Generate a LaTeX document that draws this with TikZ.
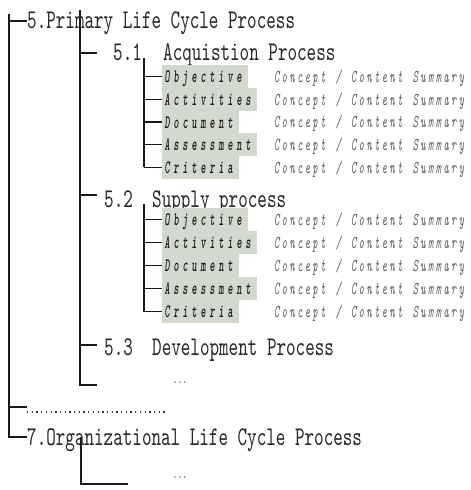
\documentclass[tikz,border=0pt]{standalone}
\usepackage{fontspec}
\newfontfamily\headfont{lmmono10-regular.otf}[FakeStretch=0.675]
\newfontfamily\labfont{lmmonolt10-boldoblique.otf}[FakeStretch=0.52]
\newfontfamily\sumfont{lmmono10-italic.otf}[FakeStretch=0.55]
\definecolor{boxgray}{RGB}{212,217,208}
% set a word with a fixed extra kern after every character
\ExplSyntaxOn
\cs_new:Npn \my_spread:nn #1#2 { \str_map_inline:nn {#2} { ##1 \kern #1 } }
\cs_generate_variant:Nn \my_spread:nn { ne }
\NewDocumentCommand \spread { m m } { \my_spread:ne {#1} {#2} }
\ExplSyntaxOff
% one monospaced cell of the summary font (glyph advance + kern)
\newcommand\sumgap{\hspace*{7.7pt}}
\newcommand\summtext{\spread{2.5pt}{Concept}\sumgap\spread{2.5pt}{/}\sumgap
  \spread{2.5pt}{Content}\sumgap\spread{2.5pt}{Summary}}
\begin{document}
\begin{tikzpicture}[x=1pt,y=-1pt,
  tree/.style={line width=1.4pt, draw=black!90},
  head/.style={anchor=base west, inner sep=0pt, text=black!85,
    font=\headfont\fontsize{27}{27}\selectfont},
  lab/.style={anchor=west, inner xsep=2.5pt, inner ysep=0pt, fill=boxgray,
    minimum height=23pt, text height=12.5pt, text depth=0pt, text=black!90,
    font=\labfont\fontsize{19}{19}\selectfont},
  summ/.style={anchor=base west, inner sep=0pt, text=black!65,
    font=\sumfont\fontsize{18}{18}\selectfont},
  more/.style={anchor=base, inner sep=0pt, text=black!75,
    font=\headfont\fontsize{14}{14}\selectfont},
  leader/.style={line width=1.3pt, dash pattern=on 1.3pt off 3.4pt, draw=black!80}
]
\useasboundingbox (0,0) rectangle (471,490);

% headings
\node[head] (h5) at (27,28) {5.Primary Life Cycle Process};
\node[head] (n51) at (113,60) {5.1};
\node[head] (t51) at (163,60) {Acquistion Process};
\node[head] (n52) at (104,207) {5.2};
\node[head] (t52) at (152,207) {Supply process};
\node[head] (n53) at (104,355) {5.3};
\node[head] (t53) at (152,355) {Development Process};
\node[more] (m5) at (180,383) {...};
\node[head] (h7) at (27,445) {7.Organizational Life Cycle Process};
\node[more] (m7) at (180,478) {...};

% tree skeleton
\coordinate (trunktop) at (9,14);
\coordinate (trunkbot) at (9,437);
\coordinate (branchtop) at (80,10);
\coordinate (branchbot) at (80,385);
\draw[tree] (trunktop) -- (trunkbot) -- (h7.west |- trunkbot);
\draw[tree] (trunktop |- 0,21) -- (h5.west |- 0,21);
\draw[tree] (branchtop) -- (branchbot) -- ++(17,0);
\coordinate (b51) at (80,53);
\coordinate (b52) at (80,195);
\coordinate (b53) at (80,345);
\draw[tree] (b51) -- ++(17,0);
\draw[tree] (b52) -- ++(17,0);
\draw[tree] (b53) -- ++(17,0);

% elided section
\coordinate (dotstart) at (27,412);
\coordinate (dotend) at (165,412);
\draw[tree] (9,407) -- (27,407);
\draw[leader] (dotstart) -- (dotend);

% section 7 continuation
\coordinate (s7top) at (81,437);
\coordinate (s7end) at (128,484);
\draw[tree] (s7top) -- (s7top |- s7end) -- (s7end);

% 5.1 activities
\coordinate (v51) at (144,58);
\foreach \name [count=\i from 0] in {Objective,Activities,Document,Assessment,Criteria}{
  \node[lab] (a\i) at (162,76.5+22.7*\i) {\spread{3.8pt}{\name}};
  \node[summ] (as\i) at (274,82.5+22.7*\i) {\summtext};
  \draw[tree] (v51 |- a\i.west) -- (a\i.west);
}
\draw[tree] (v51) -- (v51 |- a4.west);

% 5.2 activities
\coordinate (v52) at (144,204);
\foreach \name [count=\i from 0] in {Objective,Activities,Document,Assessment,Criteria}{
  \node[lab] (b\i) at (162,219.5+23*\i) {\spread{3.8pt}{\name}};
  \node[summ] (bs\i) at (274,225.5+23*\i) {\summtext};
  \draw[tree] (v52 |- b\i.west) -- (b\i.west);
}
\draw[tree] (v52) -- (v52 |- b4.west);
\end{tikzpicture}
\end{document}
